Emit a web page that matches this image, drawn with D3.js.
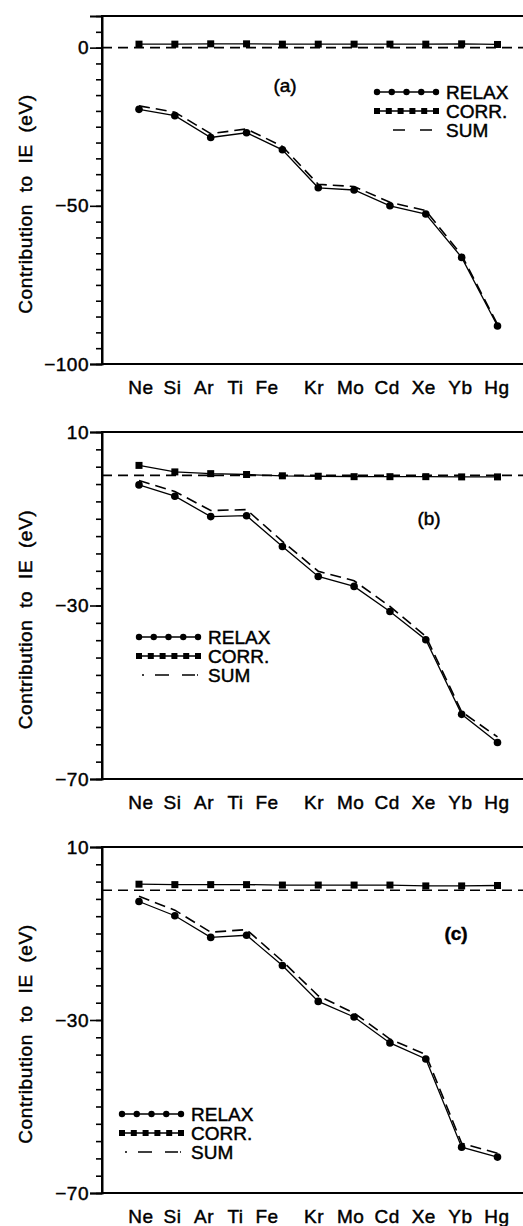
<!DOCTYPE html>
<html>
<head>
<meta charset="utf-8">
<script src="https://cdn.jsdelivr.net/npm/d3@7"></script>
<style>
  body { margin: 0; background: #fff; }
  svg { display: block; font-family: "Liberation Sans", Arial, sans-serif; }
  svg text { stroke: #000; stroke-width: 0.45px; fill: #000; }
</style>
</head>
<body>
<div id="chart"></div>
<script>
// elements along the x axis
const elements = ['Ne', 'Si', 'Ar', 'Ti', 'Fe', 'Kr', 'Mo', 'Cd', 'Xe', 'Yb', 'Hg'];

// panel (a)
const relaxA = [-19.5, -21.5, -28.4, -26.9, -32.3, -44.3, -45.0, -50.0, -52.6, -66.3, -88.0];
const corrA = [1.1, 1.1, 1.2, 1.2, 1.1, 1.1, 1.1, 1.1, 1.1, 1.2, 1.0];
const sumA = [-18.4, -20.4, -27.2, -25.7, -31.2, -43.2, -43.9, -48.9, -51.5, -65.6, -87.5];

// panel (b)
const relaxB = [-2.2, -4.8, -9.5, -9.3, -16.4, -23.3, -25.6, -31.4, -37.9, -55.1, -61.6];
const corrB = [2.3, 0.8, 0.4, 0.2, -0.1, -0.2, -0.3, -0.3, -0.3, -0.35, -0.35];
const sumB = [-1.2, -3.7, -8.1, -7.9, -15.2, -22.1, -24.3, -30.2, -37.1, -54.5, -60.3];

// panel (c)
const relaxC = [-2.6, -5.9, -10.9, -10.4, -17.4, -25.7, -29.3, -35.3, -39.0, -59.4, -61.7];
const corrC = [1.4, 1.3, 1.3, 1.3, 1.2, 1.2, 1.2, 1.2, 1.0, 1.0, 1.1];
const sumC = [-1.4, -4.6, -9.7, -9.1, -16.4, -24.4, -28.4, -34.4, -38.0, -58.5, -60.8];

// axis ticks
const ticksA = [-100, -50, 0];
const ticksBC = [-70, -30, 10];

const legendLabels = ['RELAX', 'CORR.', 'SUM'];
const yTitle = 'Contribution  to  IE  (eV)';

const width = 523, height = 1226;
const axisX = 102, rightX = 545;

const panels = [
  { tag: '(a)', relax: relaxA, corr: corrA, sum: sumA, domain: [-100, 10], ticks: ticksA, minor: 5,
    top: 16, bottom: 364, legend: [377, 92], tagPos: [285, 85], tagBold: false },
  { tag: '(b)', relax: relaxB, corr: corrB, sum: sumB, domain: [-70, 10], ticks: ticksBC, minor: 4,
    top: 432, bottom: 779, legend: [139, 637], tagPos: [429, 518], tagBold: false },
  { tag: '(c)', relax: relaxC, corr: corrC, sum: sumC, domain: [-70, 10], ticks: ticksBC, minor: 4,
    top: 847, bottom: 1193, legend: [122, 1114], tagPos: [456, 933], tagBold: true },
];

const svg = d3.select('#chart').append('svg')
  .attr('width', width)
  .attr('height', height);

// data x positions
const x = d3.scaleLinear().domain([0, elements.length - 1]).range([139, 497.5]);
// the element labels are typed with a gap between Fe and Kr
const xLabel = d3.scaleLinear().domain([0, 4, 5, 10]).range([141, 267, 314, 497]);

panels.forEach((p) => {
  const g = svg.append('g');
  const y = d3.scaleLinear().domain(p.domain).range([p.bottom, p.top]);

  // frame: top and bottom lines reaching the right edge
  g.append('rect')
    .attr('x', axisX).attr('y', p.top)
    .attr('width', rightX - axisX).attr('height', p.bottom - p.top)
    .attr('fill', 'none').attr('stroke', '#000').attr('stroke-width', 2);

  // minor ticks
  const minorTicks = d3.range(p.domain[0], p.domain[1] + 0.001, p.minor);
  g.append('g')
    .attr('transform', `translate(${axisX},0)`)
    .call(d3.axisLeft(y).tickValues(minorTicks).tickSize(6).tickFormat(''))
    .call((a) => a.select('.domain').remove())
    .call((a) => a.selectAll('line').attr('stroke-width', 1.6));

  // major ticks with labels
  g.append('g')
    .attr('transform', `translate(${axisX},0)`)
    .call(d3.axisLeft(y).tickValues(p.ticks).tickSize(12).tickPadding(1).tickFormat(d3.format('d')))
    .call((a) => a.select('.domain').attr('stroke-width', 2))
    .call((a) => a.selectAll('line').attr('stroke-width', 1.6))
    .call((a) => a.selectAll('text')
      .attr('font-size', 19)
      .attr('font-family', '"Liberation Sans", Arial, sans-serif')
      .attr('letter-spacing', 0.5)
      .attr('fill', '#000'));

  // dashed zero line
  g.append('line')
    .attr('x1', axisX).attr('x2', rightX)
    .attr('y1', y(0)).attr('y2', y(0))
    .attr('stroke', '#000').attr('stroke-width', 1.6)
    .attr('stroke-dasharray', '10,6');

  const line = d3.line().x((d, i) => x(i)).y((d) => y(d));

  // SUM
  g.append('path').datum(p.sum)
    .attr('d', line)
    .attr('fill', 'none').attr('stroke', '#000').attr('stroke-width', 1.6)
    .attr('stroke-dasharray', '11,6');

  // RELAX
  g.append('path').datum(p.relax)
    .attr('d', line)
    .attr('fill', 'none').attr('stroke', '#000').attr('stroke-width', 1.3);
  g.selectAll('circle.relax').data(p.relax).join('circle')
    .attr('class', 'relax')
    .attr('cx', (d, i) => x(i)).attr('cy', (d) => y(d))
    .attr('r', 3.8).attr('fill', '#000');

  // CORR
  g.append('path').datum(p.corr)
    .attr('d', line)
    .attr('fill', 'none').attr('stroke', '#000').attr('stroke-width', 1.3);
  g.selectAll('rect.corr').data(p.corr).join('rect')
    .attr('class', 'corr')
    .attr('x', (d, i) => x(i) - 3.5).attr('y', (d) => y(d) - 3.5)
    .attr('width', 7).attr('height', 7).attr('fill', '#000');

  // element labels
  g.selectAll('text.el').data(elements).join('text')
    .attr('class', 'el')
    .attr('x', (d, i) => xLabel(i))
    .attr('y', p.bottom + 30)
    .attr('text-anchor', 'middle')
    .attr('font-size', 19)
    .attr('letter-spacing', 0.5)
    .text((d) => d);

  // y title
  g.append('text')
    .attr('transform', `translate(32,${(p.top + p.bottom) / 2 + 14}) rotate(-90)`)
    .attr('text-anchor', 'middle')
    .attr('font-size', 19)
    .attr('letter-spacing', 0.6)
    .style('white-space', 'pre')
    .text(yTitle);

  // panel tag
  g.append('text')
    .attr('x', p.tagPos[0]).attr('y', p.tagPos[1])
    .attr('dy', '0.35em')
    .attr('text-anchor', 'middle')
    .attr('font-size', 19)
    .attr('font-weight', p.tagBold ? 'bold' : 'normal')
    .text(p.tag);

  // legend
  const [lx, ly] = p.legend;
  const lw = 59, rowH = 19;
  const lg = g.append('g').attr('transform', `translate(${lx},${ly})`);

  lg.append('line').attr('x1', 0).attr('x2', lw).attr('y1', 0).attr('y2', 0)
    .attr('stroke', '#000').attr('stroke-width', 1.3);
  lg.selectAll('circle').data(d3.range(5)).join('circle')
    .attr('cx', (d) => d * lw / 4).attr('cy', 0).attr('r', 3.2).attr('fill', '#000');

  lg.append('line').attr('x1', 0).attr('x2', lw).attr('y1', rowH).attr('y2', rowH)
    .attr('stroke', '#000').attr('stroke-width', 1.3);
  lg.selectAll('rect').data(d3.range(6)).join('rect')
    .attr('x', (d) => d * lw / 5 - 3).attr('y', rowH - 3)
    .attr('width', 6).attr('height', 6).attr('fill', '#000');

  lg.append('line').attr('x1', p.tag === '(a)' ? 16 : 3).attr('x2', lw).attr('y1', 2 * rowH).attr('y2', 2 * rowH)
    .attr('stroke', '#000').attr('stroke-width', 1.6)
    .attr('stroke-dasharray', p.tag === '(a)' ? '12,15' : '2,11,14,13,13');

  lg.selectAll('text').data(legendLabels).join('text')
    .attr('x', lw + 10).attr('y', (d, i) => i * rowH)
    .attr('dy', '0.36em')
    .attr('font-size', 19)
    .text((d) => d);
});
</script>
</body>
</html>
